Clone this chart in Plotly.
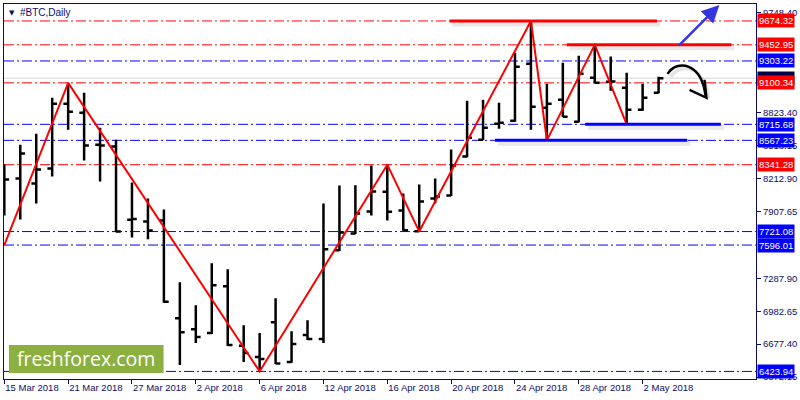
import plotly.graph_objects as go

# ---------------- data ----------------
bar_index = list(range(42))
tick_bars = [0, 4, 8, 12, 16, 20, 24, 28, 32, 36, 40]
tick_dates = ["15 Mar 2018", "21 Mar 2018", "27 Mar 2018", "2 Apr 2018", "6 Apr 2018",
              "12 Apr 2018", "16 Apr 2018", "20 Apr 2018", "24 Apr 2018", "28 Apr 2018",
              "2 May 2018"]

opens = [8009.4, 8212.9, 8166.65, 8305.4, 8906.65, 8823.4, 8527.4, 8508.9, 7830.0, 7815.15,
         7824.4, 6917.9, 6816.15, 6779.15, 7213.9, 6662.0, 6557.15, 6880.9, 6510.9, 6760.65,
         6723.65, 7546.9, 7704.15, 7907.65, 8090.0, 7916.9, 7725.0, 8027.9, 8055.65, 8416.4,
         8573.65, 8721.65, 8749.4, 9276.65, 8869.65, 8943.65, 8740.15, 9147.15, 9110.15, 9054.65,
         8850.0, 9008.4]
highs = [8342.4, 8527.4, 8629.15, 8962.15, 9100.34, 9008.4, 8684.65, 8573.65, 8175.9, 8027.9,
         7926.15, 7250.9, 7038.15, 7426.65, 7371.15, 6853.15, 6779.15, 7102.9, 6797.65, 6899.4,
         7981.65, 8148.15, 8150.0, 8333.15, 8341.28, 8074.15, 8157.4, 8212.9, 8481.15, 8934.4,
         8943.65, 8915.9, 9378.4, 9674.32, 9091.65, 9285.9, 9350.65, 9452.95, 9345.0, 9193.4,
         9091.65, 9156.4]
lows = [7870.65, 7833.65, 7981.65, 8231.4, 8666.15, 8379.4, 8185.15, 7715.0, 7667.15, 7648.65,
        7062.0, 6483.15, 6686.65, 6772.0, 6658.9, 6510.9, 6423.94, 6492.4, 6505.0, 6714.4,
        6686.65, 7540.0, 7698.0, 7870.65, 7824.4, 7728.0, 7721.08, 7981.65, 8050.0, 8410.0,
        8567.0, 8675.4, 8740.15, 8666.15, 8567.23, 8783.0, 8735.0, 9096.0, 9026.9, 8715.68,
        8842.0, 9004.0]
closes = [8203.65, 8444.15, 8296.15, 8906.65, 8832.65, 8518.15, 8518.15, 7722.65, 7838.0, 7731.9,
          7070.0, 6788.4, 6742.15, 7223.15, 6668.15, 6594.15, 6538.65, 6497.0, 6677.4, 6723.65,
          7556.15, 7713.4, 7889.15, 8092.65, 7905.0, 7734.0, 8000.15, 8046.4, 8333.15, 8592.15,
          8684.65, 8730.9, 9248.9, 8878.9, 8906.65, 8787.0, 9184.15, 9101.0, 9112.0, 8851.15,
          8962.15, 9143.56]

zigzag_bars = [0, 4, 16, 24, 26, 33, 34, 37, 39]
zigzag_prices = [7596.01, 9100.34, 6423.94, 8341.28, 7721.08, 9674.32, 8567.23, 9452.95, 8715.68]

red_levels = [9674.32, 9452.95, 9100.34, 8341.28]
blue_levels = [9303.22, 8715.68, 8567.23, 7721.08, 7596.01, 6423.94]
bid_price = 9143.56

y_ticks = [9748.40, 8823.40, 8518.15, 8212.90, 7907.65,
           7287.90, 6982.65, 6677.40, 6372.15]

# thick support / resistance segments: (price, from bar, to bar, colour)
thick_lines = [(9674.32, 27.9, 40.9, "#ff0000"),
               (9452.95, 35.25, 45.56, "#ff0000"),
               (8715.68, 36.4, 44.9, "#0000ff"),
               (8567.23, 30.75, 42.8, "#0000ff")]

NAVY = "#0c0c6c"
FONT = "Liberation Sans"

fig = go.Figure()

fig.add_trace(go.Ohlc(
    x=bar_index, open=opens, high=highs, low=lows, close=closes,
    increasing_line_color="black", decreasing_line_color="black",
    line_width=2.5, tickwidth=0.3, showlegend=False, hoverinfo="skip"))

fig.add_trace(go.Scatter(
    x=zigzag_bars, y=zigzag_prices, mode="lines",
    line=dict(color="#ff0000", width=2), showlegend=False, hoverinfo="skip"))

shapes = []
dash = "10px,3px,2px,3px"
# bid line
shapes.append(dict(type="line", xref="paper", x0=0, x1=1, yref="y", y0=bid_price, y1=bid_price,
                   line=dict(color="#d4d4d4", width=1), layer="below"))
for lv in red_levels:
    shapes.append(dict(type="line", xref="paper", x0=0, x1=1, yref="y", y0=lv, y1=lv,
                       line=dict(color="#ff0000", width=1, dash=dash), layer="below"))
for lv in blue_levels:
    shapes.append(dict(type="line", xref="paper", x0=0, x1=1, yref="y", y0=lv, y1=lv,
                       line=dict(color="#0000ff", width=1, dash=dash), layer="below"))

# thick lines with soft shadows
for price, b0, b1, col in thick_lines:
    shapes.append(dict(type="line", xref="x", yref="y", x0=b0 + 0.19, x1=b1 + 0.19,
                       y0=price - 28, y1=price - 28,
                       line=dict(color="rgba(0,0,0,0.09)", width=5)))
for price, b0, b1, col in thick_lines:
    shapes.append(dict(type="line", xref="x", yref="y", x0=b0, x1=b1, y0=price, y1=price,
                       line=dict(color=col, width=3)))

# curved black arrow (shadow + arrow)
curve = "M 41.56,9184 C 42.19,9323 43.69,9286 43.94,8981"
head = "M 42.94,9036 L 44.0,8962 L 43.88,9129"
shapes.append(dict(type="path", xref="x", yref="y", path="M 41.75,9156 C 42.38,9295 43.88,9258 44.13,8953",
                   line=dict(color="rgba(0,0,0,0.1)", width=4)))
shapes.append(dict(type="path", xref="x", yref="y", path=curve, line=dict(color="black", width=2.5)))
shapes.append(dict(type="path", xref="x", yref="y", path=head, line=dict(color="black", width=2.5)))

# logo box
shapes.append(dict(type="rect", xref="paper", yref="paper", x0=0.0066, x1=0.2122, y0=0.016, y1=0.0904,
                   fillcolor="#8cb03f", line=dict(width=0)))

annotations = []
# blue arrow
annotations.append(dict(x=44.81, y=9822.4, ax=42.19, ay=9433.9, xref="x", yref="y", axref="x", ayref="y",
                        text="", showarrow=True, arrowhead=2, arrowsize=1.4, arrowwidth=2.5,
                        arrowcolor="#3535e0", standoff=0))

# right side price labels
def price_label(v, bg):
    return dict(x=1, xref="paper", y=v, yref="y", xanchor="left", yanchor="middle", xshift=1,
                text=f"{v:.2f}", showarrow=False, bgcolor=bg, borderpad=1,
                font=dict(family=FONT, size=9.5, color="white"))

annotations.append(price_label(bid_price, "#000044"))
for lv in blue_levels:
    annotations.append(price_label(lv, "#0000ff"))
for lv in red_levels:
    annotations.append(price_label(lv, "#ff0000"))

# title
annotations.append(dict(x=0, xref="paper", y=1, yref="paper", xanchor="left", yanchor="top",
                        xshift=3, yshift=-3, text="▼", showarrow=False,
                        font=dict(family="DejaVu Sans", size=7, color=NAVY)))
annotations.append(dict(x=0, xref="paper", y=1, yref="paper", xanchor="left", yanchor="top",
                        xshift=14, yshift=-1, text="#BTC,Daily", showarrow=False,
                        font=dict(family=FONT, size=10, color=NAVY)))
# logo text
annotations.append(dict(x=0.1094, xref="paper", y=0.0535, yref="paper", xanchor="center", yanchor="middle",
                        text="freshforex.com", showarrow=False,
                        font=dict(family="Open Sans", size=19.5, color="white")))

fig.update_layout(
    width=800, height=400, margin=dict(l=3, r=43, t=3, b=21),
    paper_bgcolor="white", plot_bgcolor="white",
    shapes=shapes, annotations=annotations, showlegend=False,
    xaxis=dict(range=[-0.02, 47.105], rangeslider=dict(visible=False), showgrid=False, zeroline=False,
               tickmode="array", tickvals=tick_bars, ticktext=tick_dates,
               ticks="outside", ticklen=4, tickcolor=NAVY, ticklabelposition="outside right",
               tickfont=dict(family=FONT, size=9.5, color=NAVY),
               showline=True, linecolor=NAVY, linewidth=1, mirror=True),
    yaxis=dict(range=[6353.65, 9831.65], side="right", showgrid=False, zeroline=False,
               tickmode="array", tickvals=y_ticks, ticktext=[f"{v:.2f}" for v in y_ticks],
               ticks="outside", ticklen=4, tickcolor=NAVY,
               tickfont=dict(family=FONT, size=9.5, color=NAVY),
               showline=True, linecolor=NAVY, linewidth=1, mirror=True),
)

fig.write_html("out.html", config={"displayModeBar": False},
               post_script="document.body.style.margin='0';")
